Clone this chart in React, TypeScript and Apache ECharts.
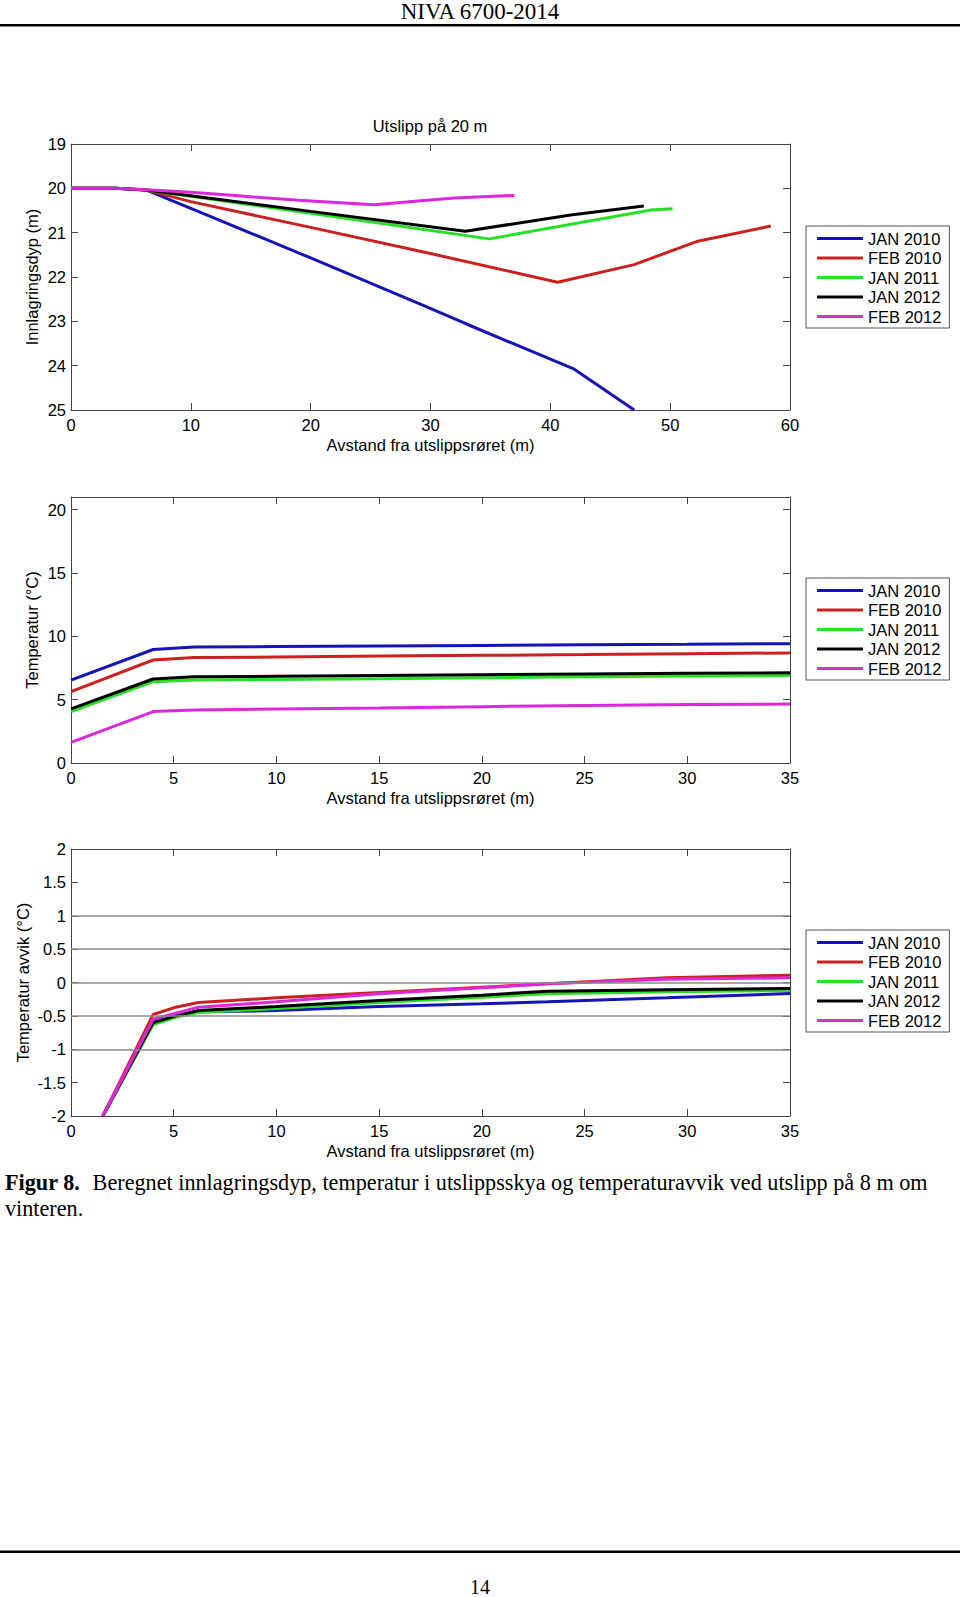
import React, { useEffect, useRef } from 'react';
import * as echarts from 'echarts';

// ---------- shared ----------
const seriesNames = ['JAN 2010', 'FEB 2010', 'JAN 2011', 'JAN 2012', 'FEB 2012'];
const seriesColors = ['#1414b8', '#cc2020', '#26e026', '#000000', '#dc28dc'];

// ---------- chart 1: innlagringsdyp (depth, m) vs distance (m) ----------
const depthJan2010 = [[0, 20.0], [3.7, 20.0], [6.3, 20.04], [10, 20.45], [20, 21.57], [29.2, 22.62], [33, 23.06], [42, 24.08], [47, 25.0]];
const depthFeb2010 = [[0, 20.0], [3.7, 20.0], [6.3, 20.04], [10, 20.3], [20, 20.88], [30, 21.47], [40.6, 22.12], [47, 21.72], [52.2, 21.2], [58.4, 20.85]];
const depthJan2011 = [[0, 20.0], [3.7, 20.0], [6.3, 20.04], [20, 20.56], [34.9, 21.14], [48.4, 20.49], [50.2, 20.46]];
const depthJan2012 = [[0, 20.0], [3.7, 20.0], [6.3, 20.04], [20, 20.52], [32.9, 20.97], [41.7, 20.6], [47.8, 20.4]];
const depthFeb2012 = [[0, 20.0], [3.7, 20.0], [6.3, 20.03], [10, 20.09], [14, 20.17], [19, 20.27], [25.3, 20.37], [29.2, 20.28], [32, 20.22], [37, 20.16]];
const depthSeries = [depthJan2010, depthFeb2010, depthJan2011, depthJan2012, depthFeb2012];

// ---------- chart 2: temperatur (°C) ----------
const tempDist = [0, 4, 6, 10, 15, 20, 25, 30, 35];
const tempJan2010 = [6.55, 8.96, 9.15, 9.19, 9.23, 9.28, 9.33, 9.37, 9.42];
const tempFeb2010 = [5.64, 8.13, 8.32, 8.37, 8.44, 8.5, 8.56, 8.63, 8.69];
const tempJan2011 = [4.06, 6.42, 6.55, 6.6, 6.66, 6.73, 6.8, 6.86, 6.91];
const tempJan2012 = [4.27, 6.63, 6.8, 6.85, 6.91, 6.97, 7.03, 7.08, 7.12];
const tempFeb2012 = [1.63, 4.06, 4.19, 4.26, 4.35, 4.45, 4.54, 4.61, 4.66];
const tempSeries = [tempJan2010, tempFeb2010, tempJan2011, tempJan2012, tempFeb2012];

// ---------- chart 3: temperatur avvik (°C) ----------
const devDist = [1.55, 4.0, 5.1, 6.2, 10, 15, 20, 23.2, 29, 35];
const devJan2010 = [-2, -0.6, -0.5, -0.44, -0.42, -0.36, -0.32, -0.29, -0.23, -0.165];
const devFeb2010 = [-2, -0.48, -0.37, -0.3, -0.23, -0.15, -0.07, -0.02, 0.07, 0.11];
const devJan2011 = [-2, -0.63, -0.52, -0.45, -0.39, -0.3, -0.22, -0.17, -0.14, -0.12];
const devJan2012 = [-2, -0.6, -0.5, -0.42, -0.36, -0.27, -0.19, -0.13, -0.11, -0.09];
const devFeb2012 = [-2, -0.55, -0.46, -0.37, -0.29, -0.17, -0.08, -0.02, 0.05, 0.07];
const devSeries = [devJan2010, devFeb2010, devJan2011, devJan2012, devFeb2012];
const devGridLines = [1, 0.5, 0, -0.5, -1];

// ---------- texts ----------
const headerText = 'NIVA 6700-2014';
const chart1Title = 'Utslipp på 20 m';
const xAxisName = 'Avstand fra utslippsrøret (m)';
const yNames = ['Innlagringsdyp (m)', 'Temperatur (°C)', 'Temperatur avvik (°C)'];
const captionBold = 'Figur 8.';
const captionLine1 = 'Beregnet innlagringsdyp, temperatur i utslippsskya og temperaturavvik ved utslipp på 8 m om';
const captionLine2 = 'vinteren.';
const pageNumber = '14';

const SANS = 'Liberation Sans, Arial, sans-serif';
const SERIF = 'Liberation Serif, Times New Roman, serif';
const AXIS_COLOR = '#444';
const FS = 16.5;

export default function App() {
  const ref = useRef<HTMLDivElement>(null);

  useEffect(() => {
    if (!ref.current) return;
    const chart = echarts.init(ref.current, null, { renderer: 'svg' });

    const grids = [
      { left: 71, top: 144, width: 719, height: 266 },
      { left: 71, top: 497, width: 719, height: 266 },
      { left: 71, top: 849, width: 719, height: 267 },
    ];
    const xCfg = [
      { min: 0, max: 60, interval: 10 },
      { min: 0, max: 35, interval: 5 },
      { min: 0, max: 35, interval: 5 },
    ];
    const yCfg = [
      { min: 19, max: 25, interval: 1, inverse: true },
      { min: 0, max: 21, interval: 5, inverse: false },
      { min: -2, max: 2, interval: 0.5, inverse: false },
    ];
    const yNameGaps = [30.5, 30.5, 40];
    const legendTops = [226, 578, 930];

    const xAxis: any[] = [];
    const yAxis: any[] = [];
    for (let i = 0; i < 3; i++) {
      const base = {
        type: 'value',
        gridIndex: i,
        min: xCfg[i].min,
        max: xCfg[i].max,
        interval: xCfg[i].interval,
        splitLine: { show: false },
        axisLine: { show: true, onZero: false, lineStyle: { color: AXIS_COLOR, width: 1 } },
        axisTick: { show: true, inside: true, length: 7, lineStyle: { color: AXIS_COLOR } },
      };
      xAxis.push({
        ...base,
        position: 'bottom',
        name: xAxisName,
        nameLocation: 'middle',
        nameGap: 26,
        nameTextStyle: { fontSize: FS, fontFamily: SANS, color: '#000' },
        axisLabel: { show: true, margin: 6, fontSize: FS, fontFamily: SANS, color: '#000' },
      });
      xAxis.push({ ...base, position: 'top', axisLabel: { show: false } });

      const ybase = {
        type: 'value',
        gridIndex: i,
        min: yCfg[i].min,
        max: yCfg[i].max,
        interval: yCfg[i].interval,
        inverse: yCfg[i].inverse,
        splitLine: { show: false },
        axisLine: { show: true, onZero: false, lineStyle: { color: AXIS_COLOR, width: 1 } },
        axisTick: { show: true, inside: true, length: 7, lineStyle: { color: AXIS_COLOR } },
      };
      yAxis.push({
        ...ybase,
        position: 'left',
        name: yNames[i],
        nameLocation: 'middle',
        nameGap: yNameGaps[i],
        nameMoveOverlap: false,
        nameRotate: 90,
        nameTextStyle: { fontSize: FS, fontFamily: SANS, color: '#000' },
        axisLabel: {
          show: true,
          margin: 5,
          fontSize: FS,
          fontFamily: SANS,
          color: '#000',
          formatter: (v: number) => (i === 1 && v > 20 ? '' : String(v)),
        },
      });
      yAxis.push({ ...ybase, position: 'right', axisLabel: { show: false } });
    }

    const lineSeries = (name: string, color: string, idx: number, data: any[]) => ({
      type: 'line',
      name,
      xAxisIndex: idx * 2,
      yAxisIndex: idx * 2,
      data,
      color,
      symbol: 'none',
      showSymbol: false,
      clip: true,
      z: 3,
      lineStyle: { color, width: 3 },
      itemStyle: { color },
    });

    const series: any[] = [];
    // grid lines for chart 3 (drawn beneath the curves)
    series.push({
      type: 'line',
      name: 'gridlines',
      xAxisIndex: 4,
      yAxisIndex: 4,
      data: [],
      z: 1,
      silent: true,
      markLine: {
        silent: true,
        symbol: ['none', 'none'],
        label: { show: false },
        lineStyle: { color: '#8a8a8a', width: 1.5, type: 'solid' },
        data: devGridLines.map((v) => ({ yAxis: v })),
      },
    });
    seriesNames.forEach((n, k) => {
      series.push(lineSeries(n, seriesColors[k], 0, depthSeries[k]));
    });
    seriesNames.forEach((n, k) => {
      series.push(lineSeries(n, seriesColors[k], 1, tempDist.map((d, j) => [d, tempSeries[k][j]])));
    });
    seriesNames.forEach((n, k) => {
      series.push(lineSeries(n, seriesColors[k], 2, devDist.map((d, j) => [d, devSeries[k][j]])));
    });

    const legend = legendTops.map((top) => ({
      orient: 'vertical',
      left: 806,
      top,
      data: seriesNames,
      icon: 'rect',
      itemWidth: 46,
      itemHeight: 3,
      itemGap: 2.5,
      padding: [4, 8, 3, 11],
      borderColor: '#555',
      borderWidth: 1,
      borderRadius: 0,
      backgroundColor: '#fff',
      selectedMode: false,
      textStyle: { fontSize: FS, fontFamily: SANS, color: '#000', lineHeight: 16 },
    }));

    const graphic: any[] = [
      {
        type: 'text',
        x: 480,
        y: 11,
        style: { text: headerText, fontSize: 23, fontFamily: SERIF, fill: '#000', textAlign: 'center', textVerticalAlign: 'middle' },
      },
      { type: 'rect', shape: { x: 0, y: 24, width: 960, height: 2.5 }, style: { fill: '#000' } },
      {
        type: 'text',
        x: 430,
        y: 126,
        style: { text: chart1Title, fontSize: FS, fontFamily: SANS, fill: '#000', textAlign: 'center', textVerticalAlign: 'middle' },
      },
      {
        type: 'text',
        x: 5,
        y: 1182,
        style: { text: captionBold, fontSize: 22.2, fontWeight: 'bold', fontFamily: SERIF, fill: '#000', textAlign: 'left', textVerticalAlign: 'middle' },
      },
      {
        type: 'text',
        x: 92.6,
        y: 1182,
        style: { text: captionLine1, fontSize: 22.2, fontFamily: SERIF, fill: '#000', textAlign: 'left', textVerticalAlign: 'middle' },
      },
      {
        type: 'text',
        x: 5,
        y: 1208.5,
        style: { text: captionLine2, fontSize: 22.2, fontFamily: SERIF, fill: '#000', textAlign: 'left', textVerticalAlign: 'middle' },
      },
      { type: 'rect', shape: { x: 0, y: 1550.5, width: 960, height: 2.5 }, style: { fill: '#000' } },
      {
        type: 'text',
        x: 480,
        y: 1587,
        style: { text: pageNumber, fontSize: 20, fontFamily: SERIF, fill: '#000', textAlign: 'center', textVerticalAlign: 'middle' },
      },
    ];

    chart.setOption({
      animation: false,
      backgroundColor: '#fff',
      grid: grids,
      xAxis,
      yAxis,
      legend,
      series,
      graphic,
    });

    return () => chart.dispose();
  }, []);

  return (
    <div
      ref={ref}
      style={{ position: 'absolute', left: 0, top: 0, width: 960, height: 1597, background: '#fff' }}
    />
  );
}
